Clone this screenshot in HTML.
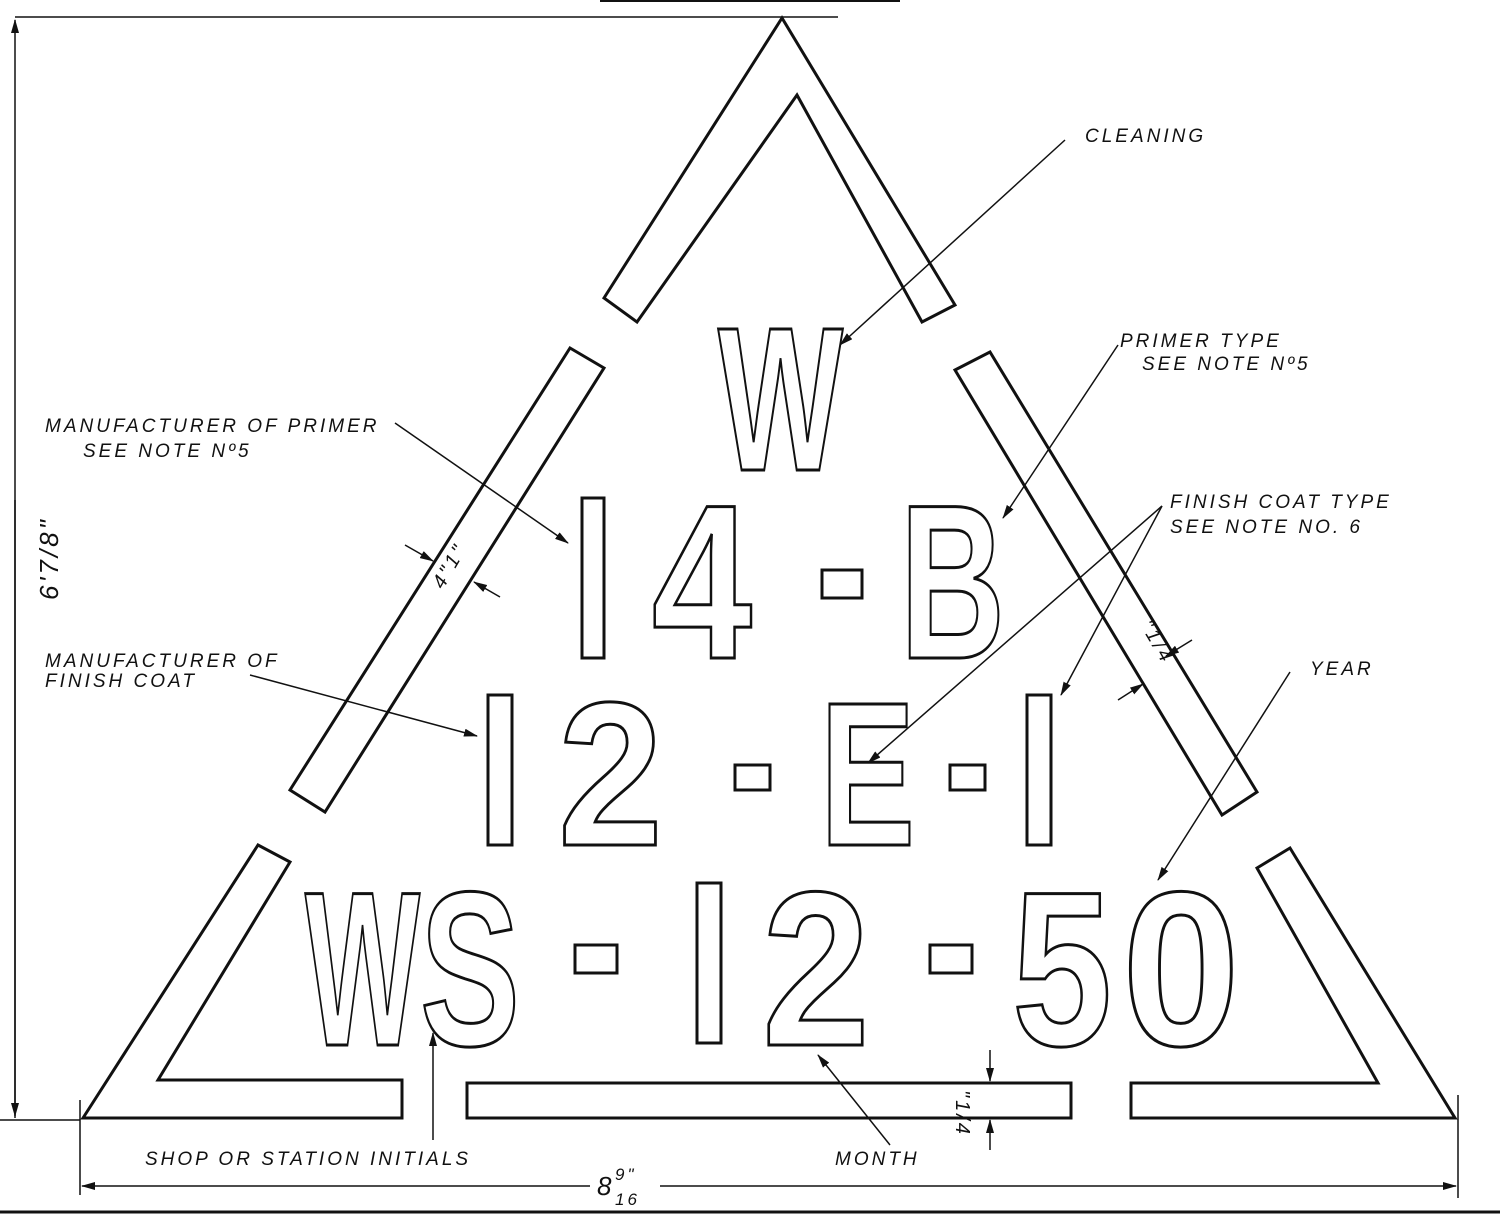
<!DOCTYPE html>
<html><head><meta charset="utf-8"><style>
html,body{margin:0;padding:0;background:#fff}
svg{display:block}
.l{font-family:"Liberation Sans",sans-serif;font-style:italic;font-size:19px;letter-spacing:3px;fill:#111}
.c{font-family:"Liberation Sans",sans-serif;font-weight:bold;fill:#fff;stroke:#111;stroke-width:3}
</style></head><body>
<svg width="1500" height="1215" viewBox="0 0 1500 1215" xmlns="http://www.w3.org/2000/svg">
<defs><marker id="a" markerWidth="14" markerHeight="8" refX="13" refY="4" orient="auto" markerUnits="userSpaceOnUse"><path d="M0,0 L14,4 L0,8 z" fill="#111"/></marker></defs>
<g fill="none" stroke="#111" stroke-width="3" stroke-linejoin="miter">
<polygon points="604,298 782,18 955,305 922,322 797,95 637,322"/>
<polygon points="570,348 604,368 325,812 290,790"/>
<polygon points="955,370 990,352 1257,792 1222,815"/>
<polygon points="83,1118 258,845 290,862 158,1080 402,1080 402,1118"/>
<rect x="467" y="1083" width="604" height="35"/>
<polygon points="1131,1083 1378,1083 1257,868 1290,848 1455,1118 1131,1118"/>
<!-- 1s and dashes -->
<rect x="582" y="498" width="22" height="160"/>
<rect x="822" y="570" width="40" height="28"/>
<rect x="488" y="695" width="24" height="150"/>
<rect x="735" y="765" width="35" height="25"/>
<rect x="950" y="765" width="35" height="25"/>
<rect x="1027" y="695" width="24" height="150"/>
<rect x="575" y="945" width="42" height="28"/>
<rect x="697" y="883" width="24" height="160"/>
<rect x="930" y="945" width="42" height="28"/>
</g>
<g class="c">
<text x="718" y="470" font-size="205" textLength="125" lengthAdjust="spacingAndGlyphs">W</text>
<text x="652" y="658" font-size="220" textLength="100" lengthAdjust="spacingAndGlyphs">4</text>
<text x="900" y="658" font-size="220" textLength="105" lengthAdjust="spacingAndGlyphs">B</text>
<text x="558" y="845" font-size="205" textLength="105" lengthAdjust="spacingAndGlyphs">2</text>
<text x="820" y="845" font-size="205" textLength="95" lengthAdjust="spacingAndGlyphs">E</text>
<text x="305" y="1045" font-size="220" textLength="115" lengthAdjust="spacingAndGlyphs">W</text>
<text x="420" y="1045" font-size="220" textLength="100" lengthAdjust="spacingAndGlyphs">S</text>
<text x="762" y="1045" font-size="220" textLength="108" lengthAdjust="spacingAndGlyphs">2</text>
<text x="1012" y="1045" font-size="220" textLength="100" lengthAdjust="spacingAndGlyphs">5</text>
<text x="1122" y="1045" font-size="220" textLength="118" lengthAdjust="spacingAndGlyphs">0</text>
</g>
<g fill="none" stroke="#111" stroke-width="1.5">
<line x1="600" y1="1" x2="900" y2="1" stroke-width="2"/>
<line x1="15" y1="17" x2="838" y2="17"/>
<line x1="0" y1="1120" x2="80" y2="1120"/>
<line x1="15" y1="1118" x2="15" y2="20" marker-end="url(#a)"/>
<line x1="15" y1="500" x2="15" y2="1116" marker-end="url(#a)"/>
<line x1="80" y1="1100" x2="80" y2="1195"/>
<line x1="1458" y1="1095" x2="1458" y2="1198"/>
<line x1="590" y1="1186" x2="82" y2="1186" marker-end="url(#a)"/>
<line x1="660" y1="1186" x2="1456" y2="1186" marker-end="url(#a)"/>
<line x1="0" y1="1212" x2="1500" y2="1212" stroke-width="3"/>
<!-- leaders -->
<line x1="1065" y1="140" x2="840" y2="345" marker-end="url(#a)"/>
<line x1="1118" y1="345" x2="1003" y2="518" marker-end="url(#a)"/>
<line x1="395" y1="423" x2="568" y2="543" marker-end="url(#a)"/>
<line x1="250" y1="675" x2="477" y2="736" marker-end="url(#a)"/>
<line x1="1162" y1="506" x2="868" y2="763" marker-end="url(#a)"/>
<line x1="1162" y1="506" x2="1061" y2="695" marker-end="url(#a)"/>
<line x1="1290" y1="672" x2="1158" y2="880" marker-end="url(#a)"/>
<line x1="433" y1="1140" x2="433" y2="1033" marker-end="url(#a)"/>
<line x1="890" y1="1145" x2="818" y2="1055" marker-end="url(#a)"/>
<line x1="405" y1="545" x2="433" y2="561" marker-end="url(#a)"/>
<line x1="500" y1="597" x2="474" y2="582" marker-end="url(#a)"/>
<line x1="1192" y1="640" x2="1166" y2="656" marker-end="url(#a)"/>
<line x1="1118" y1="700" x2="1143" y2="684" marker-end="url(#a)"/>
<line x1="990" y1="1050" x2="990" y2="1081" marker-end="url(#a)"/>
<line x1="990" y1="1150" x2="990" y2="1120" marker-end="url(#a)"/>
</g>
<g class="l">
<text x="1085" y="142">CLEANING</text>
<text x="1120" y="347">PRIMER TYPE</text>
<text x="1142" y="370">SEE NOTE Nº5</text>
<text x="45" y="432">MANUFACTURER OF PRIMER</text>
<text x="83" y="457">SEE NOTE Nº5</text>
<text x="1170" y="508">FINISH COAT TYPE</text>
<text x="1170" y="533">SEE NOTE NO. 6</text>
<text x="45" y="667">MANUFACTURER OF</text>
<text x="45" y="687">FINISH COAT</text>
<text x="1310" y="675">YEAR</text>
<text x="145" y="1165">SHOP OR STATION INITIALS</text>
<text x="835" y="1165">MONTH</text>
<text x="597" y="1195" font-size="26" font-style="italic">8</text>
<text x="615" y="1180" font-size="17">9"</text>
<text x="615" y="1205" font-size="17">16</text>
<text transform="translate(58,600) rotate(-90)" font-size="26">6'7/8"</text>
<text transform="translate(443,590) rotate(-60)" font-size="20">4"1"</text>
<text transform="translate(1140,625) rotate(60)" font-size="20">"1/4</text>
<text transform="translate(956,1090) rotate(90)" font-size="20">"1/4</text>
</g>
</svg>
</body></html>
